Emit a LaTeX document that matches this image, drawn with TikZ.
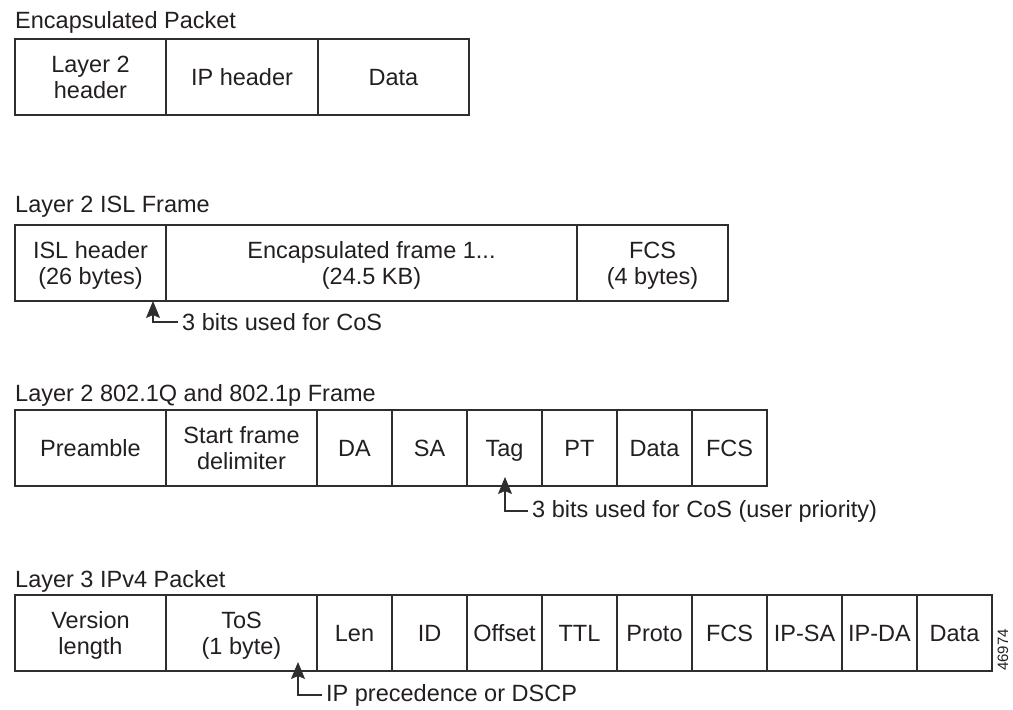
\documentclass[tikz,border=0pt]{standalone}
\usepackage{fontspec}
\setmainfont{Liberation Sans}
\usetikzlibrary{arrows.meta}
\usetikzlibrary{positioning}
\definecolor{ink}{HTML}{231F20}
\definecolor{rule}{HTML}{2E2E2E}

\begin{document}
\begin{tikzpicture}[x=1pt,y=-1pt,
        every node/.style={text=ink,font=\fontsize{23.5}{26}\selectfont},
        cell/.style={draw=rule,line width=1.3pt,outer sep=0pt,inner sep=0pt,
            minimum height=76pt,align=center,text depth=0pt},
        wide/.style={cell,minimum width=151pt},
        narrow/.style={cell,minimum width=75pt},
        title/.style={anchor=base west,inner sep=0pt},
        note/.style={anchor=west,inner xsep=4pt,inner ysep=0pt},
        cos/.style={draw=rule,line width=1.3pt,-{Stealth[length=17pt,width=14pt,inset=3pt]}}]

    \useasboundingbox (0,0) rectangle (1013,710);

    % encapsulated packet
    \node[title] (enctitle) at (15,28) {Encapsulated Packet};
    \node[wide,anchor=north west] (encl2) at (15,39) {Layer 2\\header};
    \node[wide,minimum width=152pt,right=0pt of encl2] (encip) {IP header};
    \node[wide,right=0pt of encip] (encdata) {Data};

    % ISL frame
    \node[title] (isltitle) at (15,212) {Layer 2 ISL Frame};
    \node[wide,anchor=north west] (islhdr) at (15,225) {ISL header\\(26 bytes)};
    \node[cell,minimum width=411pt,right=0pt of islhdr] (islframe) {Encapsulated frame 1...\\(24.5 KB)};
    \node[wide,right=0pt of islframe] (islfcs) {FCS\\(4 bytes)};
    \coordinate (isltip) at (153,301);
    \node[note] (islnote) at (178,322) {3 bits used for CoS};
    \draw[cos] (islnote.west) -| (isltip);

    % 802.1Q / 802.1p frame
    \node[title] (dottitle) at (15,401) {Layer 2 802.1Q and 802.1p Frame};
    \node[wide,anchor=north west] (preamble) at (15,410) {Preamble};
    \node[wide,right=0pt of preamble] (sfd) {Start frame\\delimiter};
    \node[narrow,right=0pt of sfd] (da) {DA};
    \node[narrow,right=0pt of da] (sa) {SA};
    \node[narrow,right=0pt of sa] (tag) {Tag};
    \node[narrow,right=0pt of tag] (pt) {PT};
    \node[narrow,right=0pt of pt] (dotdata) {Data};
    \node[narrow,right=0pt of dotdata] (dotfcs) {FCS};
    \coordinate (tagtip) at (505,477);
    \node[note] (tagnote) at (528,511) {3 bits used for CoS (user priority)};
    \draw[cos] (tagnote.west) -| (tagtip);

    % IPv4 packet
    \node[title] (iptitle) at (15,587) {Layer 3 IPv4 Packet};
    \node[wide,anchor=north west] (version) at (15,595) {Version\\length};
    \node[wide,right=0pt of version] (tos) {ToS\\(1 byte)};
    \node[narrow,right=0pt of tos] (len) {Len};
    \node[narrow,right=0pt of len] (id) {ID};
    \node[narrow,right=0pt of id] (offset) {Offset};
    \node[narrow,right=0pt of offset] (ttl) {TTL};
    \node[narrow,right=0pt of ttl] (proto) {Proto};
    \node[narrow,right=0pt of proto] (ipfcs) {FCS};
    \node[narrow,right=0pt of ipfcs] (ipsa) {IP-SA};
    \node[narrow,right=0pt of ipsa] (ipda) {IP-DA};
    \node[narrow,right=0pt of ipda] (ipdata) {Data};
    \coordinate (tostip) at (298,662);
    \node[note] (tosnote) at (322,695) {IP precedence or DSCP};
    \draw[cos] (tosnote.west) -| (tostip);

    \node[rotate=90,anchor=base west,inner sep=0pt,font=\fontsize{15}{15}\selectfont] (figid) at (1008,671) {46974};
\end{tikzpicture}
\end{document}
